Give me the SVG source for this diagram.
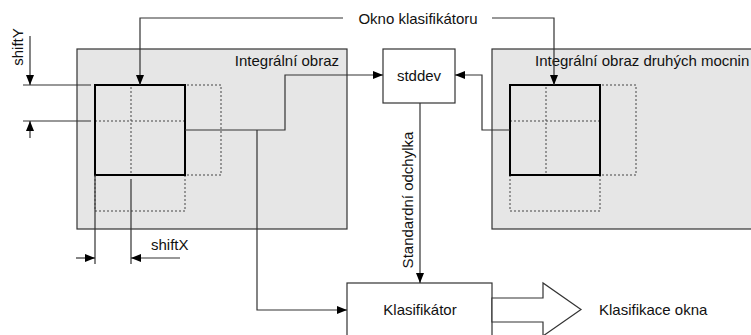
<svg xmlns="http://www.w3.org/2000/svg" width="751" height="335" viewBox="0 0 751 335">
<style>
text{font-family:"Liberation Sans",Arial,sans-serif;font-size:15px;fill:#111}
.img{fill:#e6e6e6;stroke:#333;stroke-width:1.2}
.win{fill:none;stroke:#000;stroke-width:2}
.dot{fill:none;stroke:#444;stroke-width:1;stroke-dasharray:2,2}
.box{fill:#fff;stroke:#333;stroke-width:1.2}
.c{fill:none;stroke:#333;stroke-width:1.2}
</style>
<defs>
<marker id="ah" markerUnits="userSpaceOnUse" markerWidth="10" markerHeight="8" refX="10" refY="4" orient="auto">
<path d="M0,0 L10,4 L0,8 Z" fill="#000"/>
</marker>
</defs>
<g id="integral">
<rect class="img" x="77" y="49" width="270" height="180"/>
<rect class="dot" x="131" y="85" width="90" height="90"/>
<rect class="dot" x="95" y="121" width="90" height="90"/>
<rect class="win" x="95" y="85" width="90" height="90"/>
<text x="339" y="66" text-anchor="end">Integrální obraz</text>
</g>
<g id="integral2">
<rect class="img" x="492" y="49" width="270" height="180"/>
<rect class="dot" x="546" y="85" width="90" height="90"/>
<rect class="dot" x="510" y="121" width="90" height="90"/>
<rect class="win" x="510" y="85" width="90" height="90"/>
<text x="535" y="66">Integrální obraz druhých mocnin</text>
</g>
<g id="stddev">
<rect class="box" x="383" y="49" width="72" height="54"/>
<text x="419" y="81" text-anchor="middle">stddev</text>
</g>
<g id="klasifikator">
<rect class="box" x="347" y="283" width="145" height="60"/>
<text x="420" y="315" text-anchor="middle">Klasifikátor</text>
</g>
<g id="output">
<polygon class="box" points="492,298 543,298 543,283 581,309.5 543,336 543,322 492,322"/>
<text x="599" y="315">Klasifikace okna</text>
</g>
<g id="connectors">
<path class="c" d="M185,130 H285 V75 H383" marker-end="url(#ah)"/>
<path class="c" d="M257,130 V310 H347" marker-end="url(#ah)"/>
<path class="c" d="M510,130 H482 V75 H455" marker-end="url(#ah)"/>
<path class="c" d="M343,18 H140 V85" marker-end="url(#ah)"/>
<path class="c" d="M492,18 H554 V85" marker-end="url(#ah)"/>
<path class="c" d="M420,103 V283" marker-end="url(#ah)"/>
<text x="418" y="24" text-anchor="middle">Okno klasifikátoru</text>
<text transform="translate(413,200) rotate(-90)" text-anchor="middle">Standardní odchylka</text>
</g>
<g id="shiftY">
<path class="c" d="M23,85 H91 M23,121 H91"/>
<path class="c" d="M30,36 V85" marker-end="url(#ah)"/>
<path class="c" d="M30,138 V121" marker-end="url(#ah)"/>
<text transform="translate(23,47) rotate(-90)" text-anchor="middle">shiftY</text>
</g>
<g id="shiftX">
<path class="c" d="M95,175 V264 M131,179 V264"/>
<path class="c" d="M76,258 H95" marker-end="url(#ah)"/>
<path class="c" d="M180,258 H131" marker-end="url(#ah)"/>
<text x="151" y="250">shiftX</text>
</g>
</svg>
